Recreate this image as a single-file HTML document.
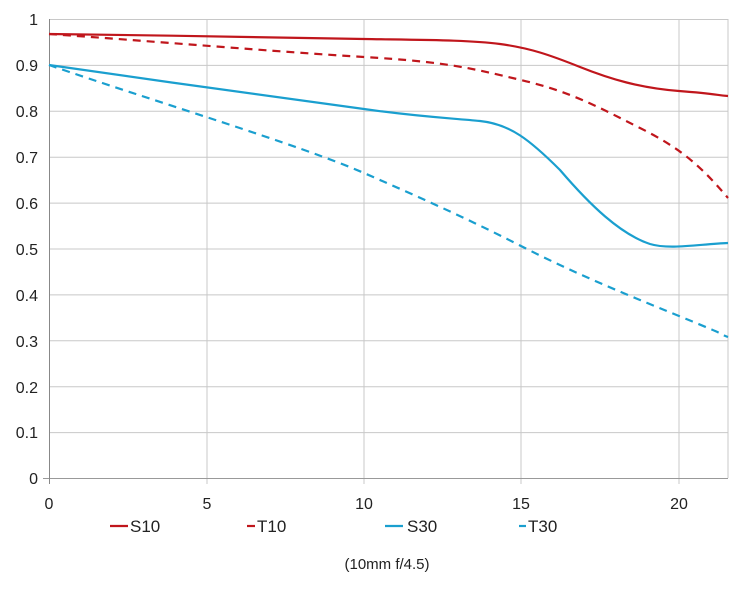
<!DOCTYPE html>
<html><head><meta charset="utf-8"><style>
body{margin:0;background:#fff;}
text{font-family:"Liberation Sans",sans-serif;fill:#222;}
</style></head><body>
<svg width="750" height="600" viewBox="0 0 750 600" xmlns="http://www.w3.org/2000/svg">
<g stroke="#c8c8c8" stroke-width="1">
<line x1="49" y1="19.5" x2="728" y2="19.5"/>
<line x1="49" y1="65.4" x2="728" y2="65.4"/>
<line x1="49" y1="111.3" x2="728" y2="111.3"/>
<line x1="49" y1="157.2" x2="728" y2="157.2"/>
<line x1="49" y1="203.1" x2="728" y2="203.1"/>
<line x1="49" y1="249" x2="728" y2="249"/>
<line x1="49" y1="294.9" x2="728" y2="294.9"/>
<line x1="49" y1="340.8" x2="728" y2="340.8"/>
<line x1="49" y1="386.7" x2="728" y2="386.7"/>
<line x1="49" y1="432.6" x2="728" y2="432.6"/>
<line x1="207" y1="19" x2="207" y2="484"/>
<line x1="364" y1="19" x2="364" y2="484"/>
<line x1="521" y1="19" x2="521" y2="484"/>
<line x1="679" y1="19" x2="679" y2="484"/>
<line x1="728" y1="19" x2="728" y2="478"/>
<line x1="43" y1="478.5" x2="728" y2="478.5" stroke="#999"/>
<line x1="49.5" y1="19" x2="49.5" y2="484" stroke="#888"/>
</g>
<g font-size="16" text-anchor="end">
<text x="38" y="25">1</text><text x="38" y="71">0.9</text><text x="38" y="117">0.8</text>
<text x="38" y="163">0.7</text><text x="38" y="209">0.6</text><text x="38" y="255">0.5</text>
<text x="38" y="301">0.4</text><text x="38" y="347">0.3</text><text x="38" y="393">0.2</text>
<text x="38" y="438">0.1</text><text x="38" y="484">0</text>
</g>
<g font-size="16" text-anchor="middle">
<text x="49" y="509">0</text><text x="207" y="509">5</text><text x="364" y="509">10</text>
<text x="521" y="509">15</text><text x="679" y="509">20</text>
</g>
<g fill="none" stroke-width="2.2">
<path stroke="#c0161c" d="M49,34 C150,35 300,38 364,39 S470,40 500,44 S550,55 580,67 S640,88 679,91 S715,95 728,96"/>
<path stroke="#c0161c" stroke-dasharray="8,6" d="M49,34 C150,41 280,52 364,57 S470,68 521,80 S600,108 640,128 S700,165 728,198"/>
<path stroke="#1a9fcf" d="M49,65 C150,80 300,100 364,109 C420,117 450,118 480,121 C510,124 530,140 560,170 C590,205 620,234 650,244 C670,250 700,244 728,243"/>
<path stroke="#1a9fcf" stroke-dasharray="8,6" d="M49,65 C150,100 300,145 364,173 S470,220 521,246 S620,292 679,316 S715,332 728,337"/>
</g>
<g stroke-width="2.2">
<line x1="110" y1="526" x2="128" y2="526" stroke="#c0161c"/>
<line x1="247" y1="526" x2="255" y2="526" stroke="#c0161c"/>
<line x1="385" y1="526" x2="403" y2="526" stroke="#1a9fcf"/>
<line x1="519" y1="526" x2="526" y2="526" stroke="#1a9fcf"/>
</g>
<g font-size="17">
<text x="130" y="532">S10</text><text x="257" y="532">T10</text>
<text x="407" y="532">S30</text><text x="528" y="532">T30</text>
</g>
<text x="387" y="569" font-size="15" text-anchor="middle">(10mm f/4.5)</text>
</svg>
</body></html>
